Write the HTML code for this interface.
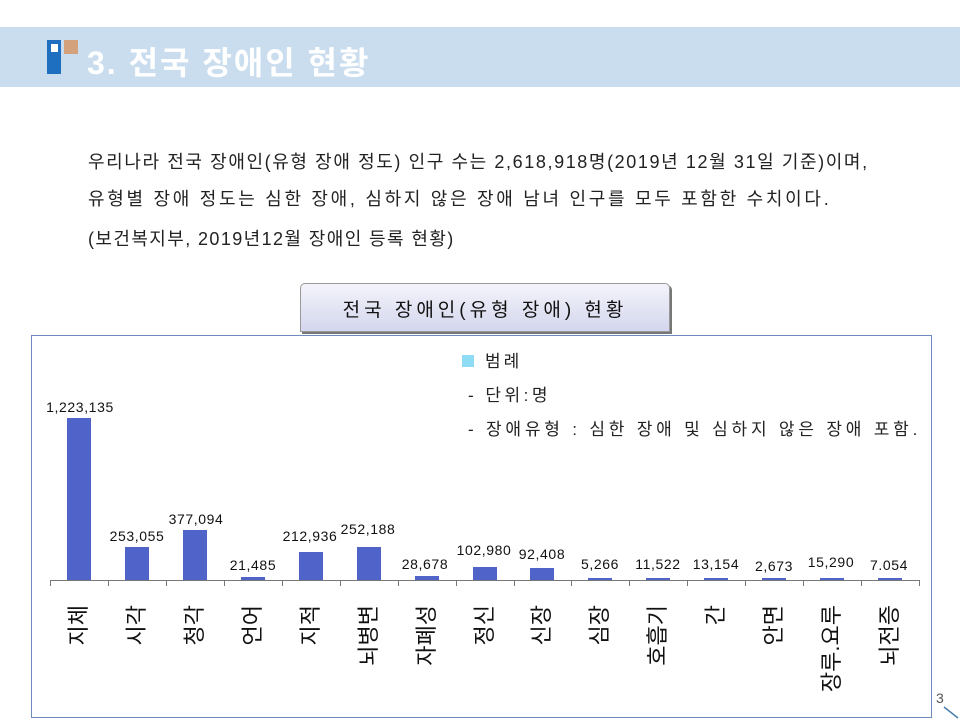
<!DOCTYPE html>
<html><head><meta charset="utf-8"><style>
body{margin:0;width:960px;height:720px;background:#fff;position:relative;overflow:hidden;font-family:"Liberation Sans","Noto Sans CJK KR",sans-serif}
.hdr{position:absolute;left:0;top:27px;width:960px;height:60px;background:#c9ddef}
.hdr .t{position:absolute;left:87px;top:11px;font-size:32px;font-weight:bold;color:#fff;letter-spacing:2px}
.p{position:absolute;left:88px;font-size:18px;color:#222;white-space:nowrap}
.tb{position:absolute;left:300px;top:283px;width:368px;height:47px;border:1px solid #999;border-radius:5px 5px 0 0;background:linear-gradient(#f4f4fa,#d3d6ee);box-shadow:2px 2px 0 #777}
.tb span{position:absolute;left:0;right:0;top:11px;text-align:center;font-size:19px;color:#111;letter-spacing:4px}
.box{position:absolute;left:31px;top:335px;width:899px;height:381px;border:1px solid #6d8bbd;background:#fff}
.xl{position:absolute;top:605px;writing-mode:vertical-rl;text-orientation:sideways;transform:rotate(180deg);font-size:22px;color:#111;line-height:24px;white-space:nowrap}
</style></head><body>
<div class="hdr">
<div style="position:absolute;left:47px;top:13px;width:14px;height:34px;background:#1f6fc0"></div>
<div style="position:absolute;left:51px;top:17px;width:7px;height:8px;background:#fff"></div>
<div style="position:absolute;left:64px;top:13px;width:14px;height:14px;background:#d3a27c"></div>
<div class="t">3. 전국 장애인 현황</div>
</div>
<div class="p" style="top:148px;letter-spacing:1.6px">우리나라 전국 장애인(유형 장애 정도) 인구 수는 2,618,918명(2019년 12월 31일 기준)이며,</div>
<div class="p" style="top:185px;letter-spacing:2.7px">유형별 장애 정도는 심한 장애, 심하지 않은 장애 남녀 인구를 모두 포함한 수치이다.</div>
<div class="p" style="top:225px;letter-spacing:1.4px">(보건복지부, 2019년12월 장애인 등록 현황)</div>
<div class="tb"><span>전국 장애인(유형 장애) 현황</span></div>
<div class="box"></div>
<svg style="position:absolute;left:0;top:0" width="960" height="720" font-family="Liberation Sans, Noto Sans CJK KR, sans-serif">
<rect x="462" y="355" width="12" height="12" fill="#8fdcf5"/>
<text x="485" y="367" font-size="17" fill="#222" letter-spacing="3">범례</text>
<text x="468" y="401" font-size="17" fill="#222" letter-spacing="3.5">- 단위:명</text>
<text x="468" y="435" font-size="17" fill="#222" letter-spacing="3.8">- 장애유형 : 심한 장애 및 심하지 않은 장애 포함.</text>
<g fill="#4f63c9">
<rect x="67" y="418" width="24" height="162"/>
<rect x="125" y="547" width="24" height="33"/>
<rect x="183" y="530" width="24" height="50"/>
<rect x="241" y="577" width="24" height="3"/>
<rect x="299" y="552" width="24" height="28"/>
<rect x="357" y="547" width="24" height="33"/>
<rect x="415" y="576" width="24" height="4"/>
<rect x="473" y="567" width="24" height="13"/>
<rect x="530" y="568" width="24" height="12"/>
<rect x="588" y="578" width="24" height="2"/>
<rect x="646" y="578" width="24" height="2"/>
<rect x="704" y="578" width="24" height="2"/>
<rect x="762" y="578" width="24" height="2"/>
<rect x="820" y="578" width="24" height="2"/>
<rect x="878" y="578" width="24" height="2"/>
</g>
<g stroke="#777" stroke-width="1">
<line x1="50" y1="580.5" x2="920" y2="580.5"/>
<line x1="50.5" y1="580" x2="50.5" y2="586"/><line x1="108.5" y1="580" x2="108.5" y2="586"/><line x1="166.5" y1="580" x2="166.5" y2="586"/><line x1="224.5" y1="580" x2="224.5" y2="586"/><line x1="282.5" y1="580" x2="282.5" y2="586"/><line x1="340.5" y1="580" x2="340.5" y2="586"/><line x1="398.5" y1="580" x2="398.5" y2="586"/><line x1="456.5" y1="580" x2="456.5" y2="586"/><line x1="514.5" y1="580" x2="514.5" y2="586"/><line x1="571.5" y1="580" x2="571.5" y2="586"/><line x1="629.5" y1="580" x2="629.5" y2="586"/><line x1="687.5" y1="580" x2="687.5" y2="586"/><line x1="745.5" y1="580" x2="745.5" y2="586"/><line x1="803.5" y1="580" x2="803.5" y2="586"/><line x1="861.5" y1="580" x2="861.5" y2="586"/><line x1="919.5" y1="580" x2="919.5" y2="586"/>
</g>
<g font-size="14" fill="#111" text-anchor="middle" letter-spacing="0.6">
<text x="80" y="412">1,223,135</text>
<text x="137" y="541">253,055</text>
<text x="196" y="524">377,094</text>
<text x="253" y="570">21,485</text>
<text x="310" y="541">212,936</text>
<text x="368" y="534">252,188</text>
<text x="425" y="569">28,678</text>
<text x="484" y="555">102,980</text>
<text x="542" y="559">92,408</text>
<text x="600" y="569">5,266</text>
<text x="658" y="569">11,522</text>
<text x="716" y="569">13,154</text>
<text x="774" y="571">2,673</text>
<text x="831" y="567">15,290</text>
<text x="889" y="570">7.054</text>
</g>
<text x="936" y="703" font-size="14" fill="#555">3</text>
<line x1="944" y1="707" x2="958" y2="718" stroke="#4a7fb0" stroke-width="1.5"/>
</svg>
<div class="xl" style="left:67px">지체</div>
<div class="xl" style="left:125px">시각</div>
<div class="xl" style="left:183px">청각</div>
<div class="xl" style="left:241px">언어</div>
<div class="xl" style="left:299px">지적</div>
<div class="xl" style="left:357px">뇌병변</div>
<div class="xl" style="left:415px">자폐성</div>
<div class="xl" style="left:473px">정신</div>
<div class="xl" style="left:530px">신장</div>
<div class="xl" style="left:588px">심장</div>
<div class="xl" style="left:646px">호흡기</div>
<div class="xl" style="left:704px">간</div>
<div class="xl" style="left:762px">안면</div>
<div class="xl" style="left:820px">장루.요루</div>
<div class="xl" style="left:878px">뇌전증</div>
</body></html>
